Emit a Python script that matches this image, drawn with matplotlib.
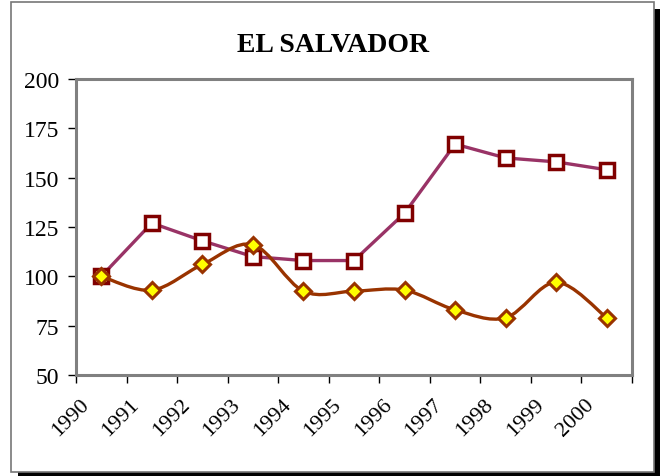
import matplotlib
matplotlib.use("Agg")
import matplotlib.pyplot as plt
import matplotlib.patches as patches
from matplotlib.path import Path

# data
years = ["1990", "1991", "1992", "1993", "1994", "1995",
         "1996", "1997", "1998", "1999", "2000"]
series_purple = [100, 127, 118, 110, 108, 108, 132, 167, 160, 158, 154]
series_orange = [100, 93, 106, 116, 92.5, 92.5, 93, 83, 79, 97, 79]
y_ticks = [50, 75, 100, 125, 150, 175, 200]

SERIF = "Liberation Serif"
PURPLE = "#993366"
DARK_RED = "#800000"
BROWN = "#993300"
YELLOW = "#FFFF00"


def smooth_path(xs, ys):
    """Excel-like smoothed line: Bezier segments (Catmull-Rom control points)."""
    n = len(xs)
    verts = [(xs[0], ys[0])]
    codes = [Path.MOVETO]
    for i in range(n - 1):
        x0, y0 = (xs[i - 1], ys[i - 1]) if i > 0 else (xs[i], ys[i])
        x1, y1 = xs[i], ys[i]
        x2, y2 = xs[i + 1], ys[i + 1]
        x3, y3 = (xs[i + 2], ys[i + 2]) if i + 2 < n else (x2, y2)
        c1 = (x1 + (x2 - x0) / 6.0, y1 + (y2 - y0) / 6.0)
        c2 = (x2 - (x3 - x1) / 6.0, y2 - (y3 - y1) / 6.0)
        verts += [c1, c2, (x2, y2)]
        codes += [Path.CURVE4] * 3
    return Path(verts, codes)


fig = plt.figure(figsize=(6.62, 4.77), dpi=100)
W, H = 662.0, 477.0

# chart frame with black drop shadow
shadow = patches.Rectangle((18 / W, 0), (660 - 18) / W, (477 - 10) / H,
                           transform=fig.transFigure, facecolor="black",
                           edgecolor="none", zorder=0)
frame = patches.Rectangle((11 / W, 4 / H), (654 - 11) / W, (474 - 4) / H,
                          transform=fig.transFigure, facecolor="white",
                          edgecolor="#777777", linewidth=1.2, zorder=1)
fig.patches.extend([shadow, frame])

ax = fig.add_axes([76 / W, 1 - 376 / H, (632 - 76) / W, (376 - 80) / H])
ax.set_zorder(2)
ax.set_facecolor("white")

x = list(range(len(years)))

# purple series: straight line with open squares
ax.plot(x, series_purple, color=PURPLE, linewidth=2.4, zorder=3,
        marker="s", markersize=10.5, markerfacecolor="white",
        markeredgecolor=DARK_RED, markeredgewidth=2.5, clip_on=False)

# orange series: smoothed line with yellow diamonds
ax.add_patch(patches.PathPatch(smooth_path(x, series_orange), facecolor="none",
                               edgecolor=BROWN, linewidth=2.4, zorder=4,
                               capstyle="round", joinstyle="round"))
ax.plot(x, series_orange, linestyle="none", zorder=5,
        marker="D", markersize=8.5, markerfacecolor=YELLOW,
        markeredgecolor=BROWN, markeredgewidth=2.2, clip_on=False)

ax.set_xlim(-0.5, len(years) - 0.5)
ax.set_ylim(50, 200)
ax.set_yticks(y_ticks)
ax.set_yticklabels([str(v) for v in y_ticks], fontfamily=SERIF, fontsize=17)
ax.set_xticks([i - 0.5 for i in range(len(years) + 1)])
ax.set_xticklabels([])
ax.tick_params(axis="both", direction="out", length=6, width=1.0,
               color="black")
ax.tick_params(axis="y", pad=6)

for i, lab in enumerate(years):
    ax.annotate(lab, xy=(i, 0), xycoords=ax.get_xaxis_transform(),
                xytext=(-11, -19), textcoords="offset points",
                rotation=45, ha="right", va="center", rotation_mode="anchor",
                fontfamily=SERIF, fontsize=16)

for side in ["top", "right", "bottom", "left"]:
    ax.spines[side].set_color("#808080")
    ax.spines[side].set_linewidth(2.2)

fig.text(333 / W, 1 - 45 / H, "EL SALVADOR", ha="center", va="center",
         fontfamily=SERIF, fontweight="bold", fontsize=20, zorder=3)

fig.savefig("out.png", dpi=100)
